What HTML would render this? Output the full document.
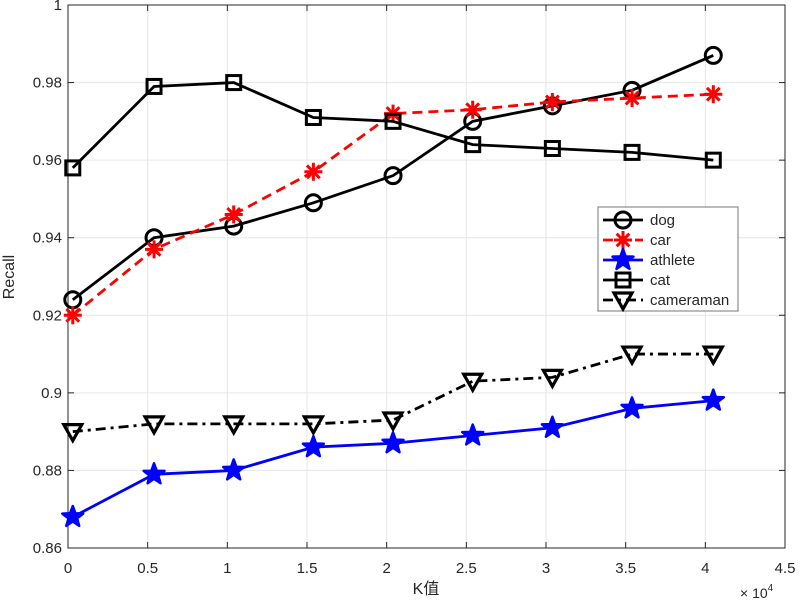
<!DOCTYPE html>
<html><head><meta charset="utf-8"><style>
html,body{margin:0;padding:0;background:#fff;}
svg text{font-family:"Liberation Sans","Noto Sans CJK SC",sans-serif;fill:#262626;}
</style></head><body>
<svg id="chart" width="800" height="600" xmlns="http://www.w3.org/2000/svg"></svg>
<script>
const xValues = [0.03, 0.54, 1.04, 1.54, 2.04, 2.54, 3.04, 3.54, 4.05];
const dogValues = [0.924, 0.940, 0.943, 0.949, 0.956, 0.970, 0.974, 0.978, 0.987];
const carValues = [0.920, 0.937, 0.946, 0.957, 0.972, 0.973, 0.975, 0.976, 0.977];
const athleteValues = [0.868, 0.879, 0.880, 0.886, 0.887, 0.889, 0.891, 0.896, 0.898];
const catValues = [0.958, 0.979, 0.980, 0.971, 0.970, 0.964, 0.963, 0.962, 0.960];
const cameramanValues = [0.890, 0.892, 0.892, 0.892, 0.893, 0.903, 0.904, 0.910, 0.910];
const xTicks = [0, 0.5, 1, 1.5, 2, 2.5, 3, 3.5, 4, 4.5];
const xTickLabels = ["0","0.5","1","1.5","2","2.5","3","3.5","4","4.5"];
const yTicks = [0.86, 0.88, 0.9, 0.92, 0.94, 0.96, 0.98, 1];
const yTickLabels = ["0.86","0.88","0.9","0.92","0.94","0.96","0.98","1"];

const L=68,R=785,T=5,B=548;
const xMin=0,xMax=4.5,yMin=0.86,yMax=1;
const sx=v=>L+(v-xMin)/(xMax-xMin)*(R-L);
const sy=v=>B-(v-yMin)/(yMax-yMin)*(B-T);
const svg=document.getElementById('chart');
const NS='http://www.w3.org/2000/svg';
function mk(tag,attrs,parent){const e=document.createElementNS(NS,tag);for(const k in attrs)e.setAttribute(k,attrs[k]);(parent||svg).appendChild(e);return e;}

xTicks.forEach((t,i)=>{
  const g=mk('line',{x1:sx(t),x2:sx(t),y1:T,y2:B,stroke:'#e6e6e6','stroke-width':1});
  
  
});
yTicks.forEach(t=>{
  const g=mk('line',{x1:L,x2:R,y1:sy(t),y2:sy(t),stroke:'#e6e6e6','stroke-width':1});
  
  
});
const box=mk('rect',{x:L,y:T,width:R-L,height:B-T,fill:'none',stroke:'#262626','stroke-width':1});


xTicks.forEach((t,i)=>{
  mk('line',{x1:sx(t),x2:sx(t),y1:B,y2:B-6,stroke:'#262626'});
  mk('line',{x1:sx(t),x2:sx(t),y1:T,y2:T+6,stroke:'#262626'});
  const tx=mk('text',{x:sx(t),y:B+25,'text-anchor':'middle','font-size':15});
  tx.textContent=xTickLabels[i];
  
  
});
yTicks.forEach((t,i)=>{
  mk('line',{x1:L,x2:L+6,y1:sy(t),y2:sy(t),stroke:'#262626'});
  mk('line',{x1:R,x2:R-6,y1:sy(t),y2:sy(t),stroke:'#262626'});
  const tx=mk('text',{x:L-6,y:sy(t)+5,'text-anchor':'end','font-size':15});
  tx.textContent=yTickLabels[i];
  
  
});
const xt=mk('text',{x:426,y:594,'text-anchor':'middle','font-size':16});
xt.textContent='K值';


const yt=mk('text',{x:0,y:0,'text-anchor':'middle','font-size':16,transform:'translate(14,277) rotate(-90)'});
yt.textContent='Recall';


const ex=mk('text',{x:740,y:598,'font-size':14});
ex.innerHTML='× 10<tspan dy="-7" font-size="10">4</tspan>';



function marker(type,x,y,color,parent){
  if(type==='circle') return mk('circle',{cx:x,cy:y,r:8,fill:'none',stroke:color,'stroke-width':3},parent);
  if(type==='square') return mk('rect',{x:x-7,y:y-7,width:14,height:14,fill:'none',stroke:color,'stroke-width':3},parent);
  if(type==='tri') return mk('polygon',{points:`${x-9},${y-7} ${x+9},${y-7} ${x},${y+9}`,fill:'none',stroke:color,'stroke-width':3.2},parent);
  if(type==='star'){let p=[];for(let k=0;k<10;k++){const r=k%2?4.5:11;const a=-Math.PI/2+k*Math.PI/5;p.push((x+r*Math.cos(a)).toFixed(1)+','+(y+r*Math.sin(a)).toFixed(1));}
    return mk('polygon',{points:p.join(' '),fill:color,stroke:color,'stroke-width':2.5,'stroke-linejoin':'round'},parent);}
  if(type==='ast'){const g=mk('g',{stroke:color,'stroke-width':3},parent);
    for(let k=0;k<4;k++){const a=k*Math.PI/4;mk('line',{x1:x-9*Math.cos(a),y1:y-9*Math.sin(a),x2:x+9*Math.cos(a),y2:y+9*Math.sin(a)},g);}return g;}
}
const series=[
  {name:'dog',vals:dogValues,color:'#000',dash:'',m:'circle'},
  {name:'car',vals:carValues,color:'#ff0000',dash:'10,6',m:'ast'},
  {name:'athlete',vals:athleteValues,color:'#0000ff',dash:'',m:'star'},
  {name:'cat',vals:catValues,color:'#000',dash:'',m:'square'},
  {name:'cameraman',vals:cameramanValues,color:'#000',dash:'10,5,3,5',m:'tri'}
];
series.forEach(s=>{
  const g=mk('g',{});
  
  
  const pts=s.vals.map((v,i)=>sx(xValues[i])+','+sy(v)).join(' ');
  const pl=mk('polyline',{points:pts,fill:'none',stroke:s.color,'stroke-width':2.8,'stroke-dasharray':s.dash},g);
  
  
  s.vals.forEach((v,i)=>{
    const m=marker(s.m,sx(xValues[i]),sy(v),s.color,g);
    
    
  });
});
const lg=mk('g',{});


mk('rect',{x:598,y:207,width:140,height:104,fill:'#fff',stroke:'#777','stroke-width':1},lg);
series.forEach((s,i)=>{
  const y=220+i*20;
  const e=mk('g',{},lg);
  
  
  mk('line',{x1:603,x2:643,y1:y,y2:y,stroke:s.color,'stroke-width':2.8,'stroke-dasharray':s.dash},e);
  marker(s.m,623,y,s.color,e);
  const t=mk('text',{x:650,y:y+5,'font-size':15},e);
  t.textContent=s.name;
});
</script>
</body></html>
